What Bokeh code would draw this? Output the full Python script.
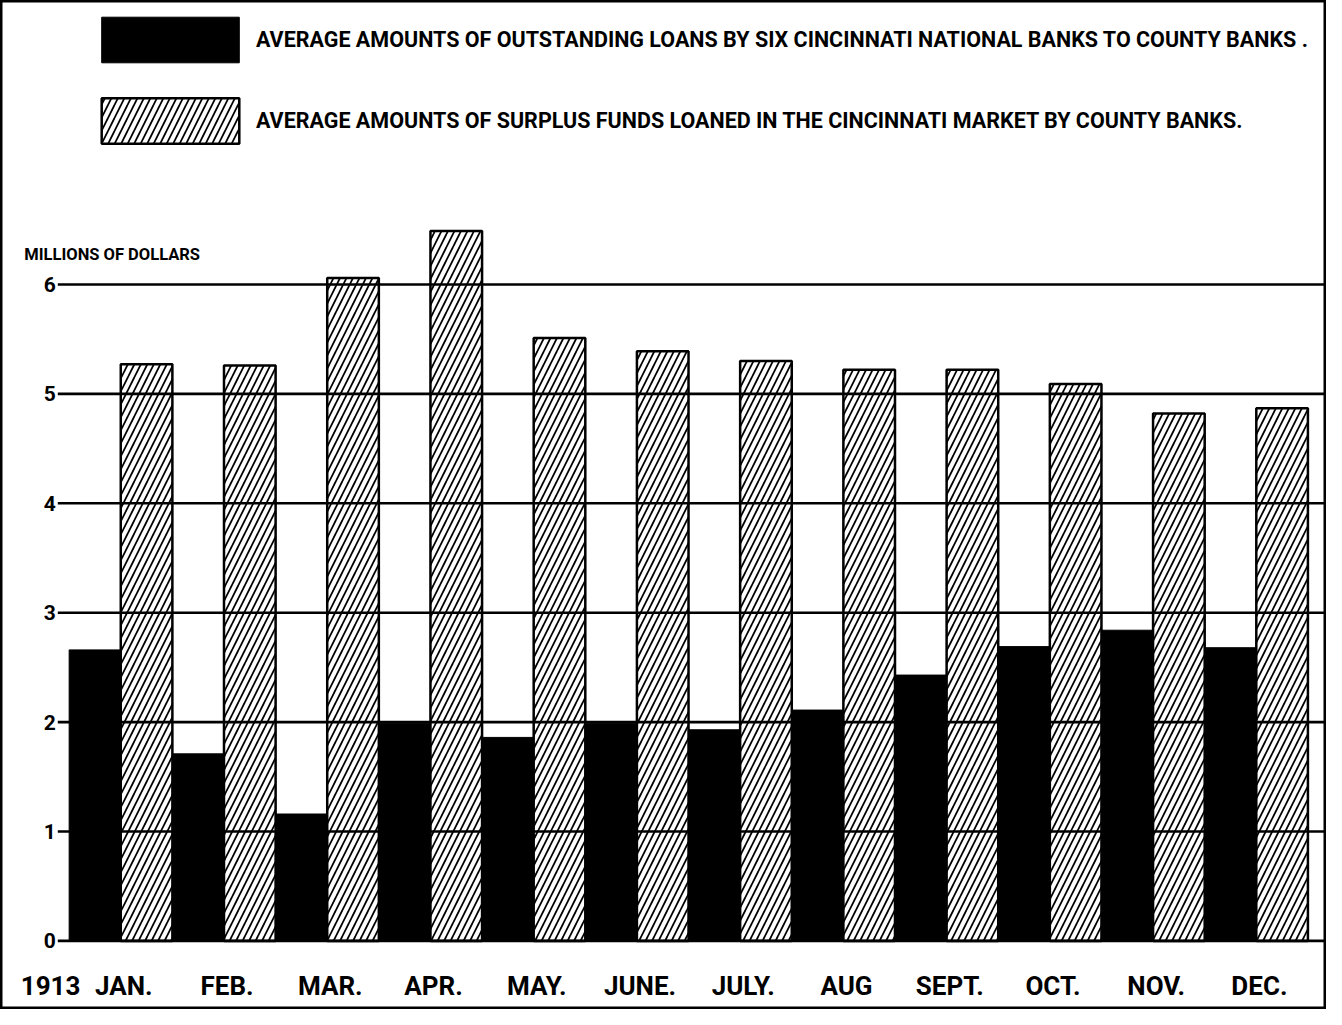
from bokeh.plotting import figure
from bokeh.models import ColumnDataSource, Range1d, Legend, LegendItem
from bokeh.core.properties import value
from bokeh.embed import file_html
from bokeh.resources import INLINE

# ---------------- data ----------------
months = ["JAN.", "FEB.", "MAR.", "APR.", "MAY.", "JUNE.", "JULY.", "AUG", "SEPT.", "OCT.", "NOV.", "DEC."]
year_label = ["1913"]
loans = [2.66, 1.71, 1.16, 1.99, 1.86, 1.99, 1.93, 2.11, 2.43, 2.69, 2.84, 2.68]
surplus = [5.27, 5.26, 6.06, 6.49, 5.51, 5.39, 5.30, 5.22, 5.22, 5.09, 4.82, 4.87]
y_ticks = [0, 1, 2, 3, 4, 5, 6]
y_tick_labels = ["0", "1", "2", "3", "4", "5", "6"]
y_title = ["MILLIONS OF DOLLARS"]
legend_loans = "AVERAGE AMOUNTS OF OUTSTANDING LOANS BY SIX CINCINNATI NATIONAL BANKS TO COUNTY BANKS ."
legend_surplus = "AVERAGE AMOUNTS OF SURPLUS FUNDS LOANED IN THE CINCINNATI MARKET BY COUNTY BANKS."

# ---------------- layout ----------------
W, H = 1326, 1009
X_START, X_END = -0.665, 12.18
Y_START, Y_END = -0.627, 8.596
FONT_NAME = "Roboto"
FONT = value(FONT_NAME)

p = figure(width=W, height=H, x_range=Range1d(X_START, X_END), y_range=Range1d(Y_START, Y_END),
           output_backend="svg", toolbar_location=None, min_border=0,
           x_axis_type=None, y_axis_type=None)
p.outline_line_color = "black"
p.outline_line_width = 4
p.background_fill_color = "white"
p.border_fill_color = "white"

n = len(months)
slot = list(range(n))
src = ColumnDataSource(dict(
    l_black=[i for i in slot],
    r_black=[i + 0.5 for i in slot],
    r_hatch=[i + 1.0 for i in slot],
    center=[i + 0.53 for i in slot],
    loans=loans,
    surplus=surplus,
    month=months,
))

black_r = p.quad(left="l_black", right="r_black", bottom=0, top="loans", source=src,
                 fill_color="black", line_color="black", line_width=1)
hatch_r = p.quad(left="r_black", right="r_hatch", bottom=0, top="surplus", source=src,
                 fill_color="white", line_color="black", line_width=2.5,
                 hatch_pattern="/", hatch_color="black", hatch_scale=13, hatch_weight=1.7)

# gridlines drawn over the bars
grid_src = ColumnDataSource(dict(y=y_ticks, label=y_tick_labels))
p.segment(x0=-0.11, x1=X_END, y0="y", y1="y", source=grid_src, line_color="black", line_width=2.6)

# y tick labels
p.text(x=-0.13, y="y", text="label", source=grid_src, text_align="right", text_baseline="middle",
       text_font=FONT, text_font_size="21px", text_font_style="bold", text_color="black")

# y title
p.text(x=[-0.434], y=[6.27], text=y_title, text_align="left", text_baseline="middle",
       text_font=FONT, text_font_size="16.5px", text_font_style="bold", text_color="black")

# month labels
p.text(x="center", y=-0.41, text="month", source=src, text_align="center", text_baseline="middle",
       text_font=FONT, text_font_size="26px", text_font_style="bold", text_color="black")
p.text(x=[-0.18], y=[-0.41], text=year_label, text_align="center", text_baseline="middle",
       text_font=FONT, text_font_size="26px", text_font_style="bold", text_color="black")

legend = Legend(items=[LegendItem(label=legend_loans, renderers=[black_r]),
                       LegendItem(label=legend_surplus, renderers=[hatch_r])],
                location=(84, 860), orientation="vertical",
                glyph_width=172, glyph_height=57, label_standoff=-4, spacing=24,
                padding=0, margin=0, border_line_alpha=0, background_fill_alpha=0,
                label_text_font=FONT_NAME, label_text_font_size="21.5px",
                label_text_font_style="bold", label_text_color="black",
                label_text_baseline="top", label_height=57)
p.add_layout(legend)

open("out.html", "w").write(file_html(p, INLINE))
